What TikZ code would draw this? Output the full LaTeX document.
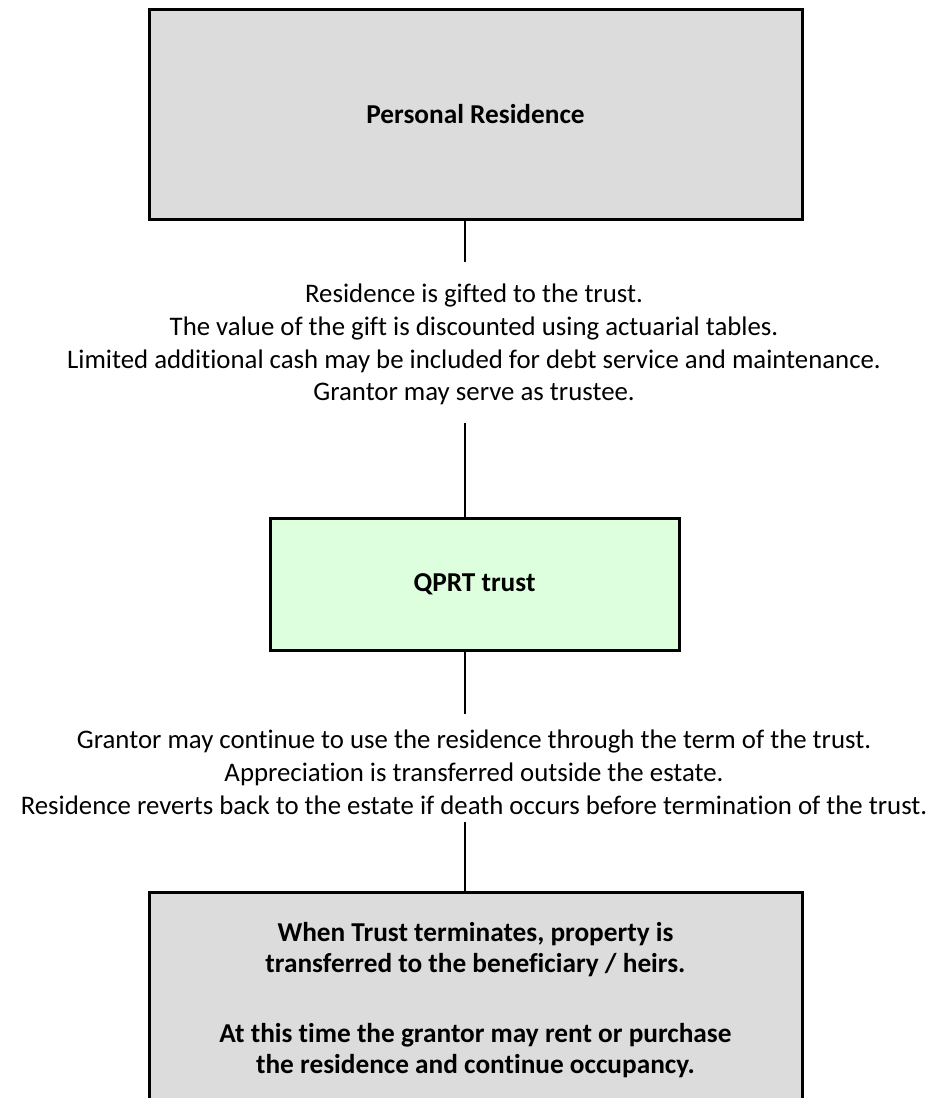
\documentclass[tikz,border=0pt]{standalone}
\usepackage{fontspec}
\setmainfont{Carlito}[Ligatures={NoCommon}]
\definecolor{boxgray}{RGB}{220,220,220}
\definecolor{boxgreen}{RGB}{222,255,222}
\tikzset{
  graybox/.style={draw=black, line width=3pt, fill=boxgray, inner sep=0pt, align=center,
    font=\fontsize{27.3}{31}\selectfont\bfseries},
  greenbox/.style={draw=black, line width=3pt, fill=boxgreen, inner sep=0pt, align=center,
    font=\fontsize{27.3}{31}\selectfont\bfseries},
  note/.style={inner sep=0pt, align=center, font=\fontsize{26.8}{32.8}\selectfont},
  conn/.style={draw=black, line width=2pt}
}
\begin{document}
\begin{tikzpicture}[x=1pt,y=-1pt]
\useasboundingbox (0,0) rectangle (942,1098);
\clip (0,0) rectangle (942,1098);
\fill[white] (0,0) rectangle (942,1098);

\node[graybox, minimum width=653pt, minimum height=210pt] (res) at (475.5,114) {Personal Residence};

\node[note] (t1) at (474,344.5) {Residence is gifted to the trust.\\
The value of the gift is discounted using actuarial tables.\\
Limited additional cash may be included for debt service and maintenance.\\
Grantor may serve as trustee.};

\node[greenbox, minimum width=409pt, minimum height=132pt] (qprt) at (474.5,584) {QPRT trust};

\node[note] (t2) at (474,772) {Grantor may continue to use the residence through the term of the trust.\\
Appreciation is transferred outside the estate.\\
Residence reverts back to the estate if death occurs before termination of the trust.};

\node[graybox, minimum width=653pt, minimum height=216pt] (end) at (475.5,1000) {When Trust terminates, property is\\
transferred to the beneficiary / heirs.\\[39pt]
At this time the grantor may rent or purchase\\
the residence and continue occupancy.};

\coordinate (c1) at (465,262);
\coordinate (c2) at (465,423);
\coordinate (c3) at (465,714);
\coordinate (c4) at (465,822);

\draw[conn] (res.south -| c1) -- (c1);
\draw[conn] (c2) -- (qprt.north -| c2);
\draw[conn] (qprt.south -| c3) -- (c3);
\draw[conn] (c4) -- (end.north -| c4);
\end{tikzpicture}
\end{document}
